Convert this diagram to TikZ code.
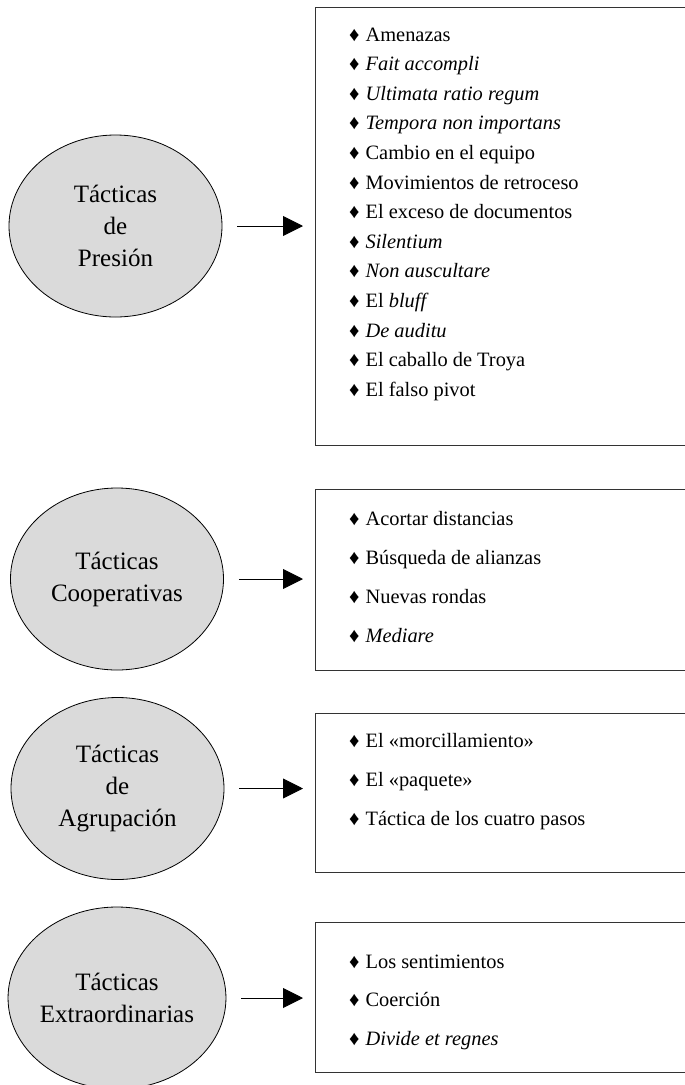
\documentclass[tikz,border=0pt]{standalone}
\usepackage{fontspec}
\setmainfont{Liberation Serif}
\usetikzlibrary{shapes.geometric,arrows.meta}
\definecolor{ellgray}{HTML}{DADADA}
\definecolor{boxgray}{HTML}{333333}
\newcommand\dia{♦\hspace{6bp}}
\begin{document}
\begin{tikzpicture}[x=1bp,y=-1bp,
  tactic/.style={ellipse,draw=black,line width=0.8bp,fill=ellgray,
    minimum width=213bp,minimum height=182bp,inner sep=0pt,align=center,
    font=\fontsize{25bp}{32bp}\selectfont},
  listbox/.style={draw=boxgray,line width=1.3bp,rectangle,anchor=north west,
    inner sep=0pt,minimum width=390bp},
  item/.style={anchor=base west,inner sep=0pt,font=\fontsize{20.4bp}{24bp}\selectfont},
  link/.style={-{Triangle[length=20bp,width=20bp]},line width=0.9bp}]
\useasboundingbox (0,0) rectangle (685,1085);

% tactic groups
\node[tactic] (e1) at (115.5,226) {Tácticas\\de\\Presión};
\node[tactic] (e2) at (117,579) {Tácticas\\Cooperativas};
\node[tactic] (e3) at (117.5,788.5) {Tácticas\\de\\Agrupación};
\node[tactic] (e4) at (117,998) {Tácticas\\Extraordinarias};

% list frames (right side runs past the page edge)
\node[listbox,minimum height=438bp] (b1) at (315,7) {};
\node[listbox,minimum height=181bp] (b2) at (315,489) {};
\node[listbox,minimum height=159bp] (b3) at (315,713) {};
\node[listbox,minimum height=150bp] (b4) at (315,922) {};

% arrows
\foreach \k in {1,...,4}
  \draw[link] ([xshift=15bp]e\k.east) -- ([xshift=-12bp]e\k.east -| b\k.west);

% pressure tactics
\foreach [count=\i from 0] \t in {
  Amenazas,
  \textit{Fait accompli},
  \textit{Ultimata ratio regum},
  \textit{Tempora non importans},
  Cambio en el equipo,
  Movimientos de retroceso,
  El exceso de documentos,
  \textit{Silentium},
  \textit{Non auscultare},
  El \textit{bluff},
  \textit{De auditu},
  El caballo de Troya,
  El falso pivot}
  \node[item] (p\i) at (349,41+29.6*\i) {\dia\t};

% cooperative tactics
\foreach [count=\i from 0] \t in {
  Acortar distancias,
  Búsqueda de alianzas,
  Nuevas rondas,
  \textit{Mediare}}
  \node[item] (c\i) at (349,525+39.3*\i) {\dia\t};

% grouping tactics
\foreach [count=\i from 0] \t in {
  El «morcillamiento»,
  El «paquete»,
  Táctica de los cuatro pasos}
  \node[item] (g\i) at (349,747+39.3*\i) {\dia\t};

% extraordinary tactics
\foreach [count=\i from 0] \t in {
  Los sentimientos,
  Coerción,
  \textit{Divide et regnes}}
  \node[item] (x\i) at (349,968+38.7*\i) {\dia\t};
\end{tikzpicture}
\end{document}
